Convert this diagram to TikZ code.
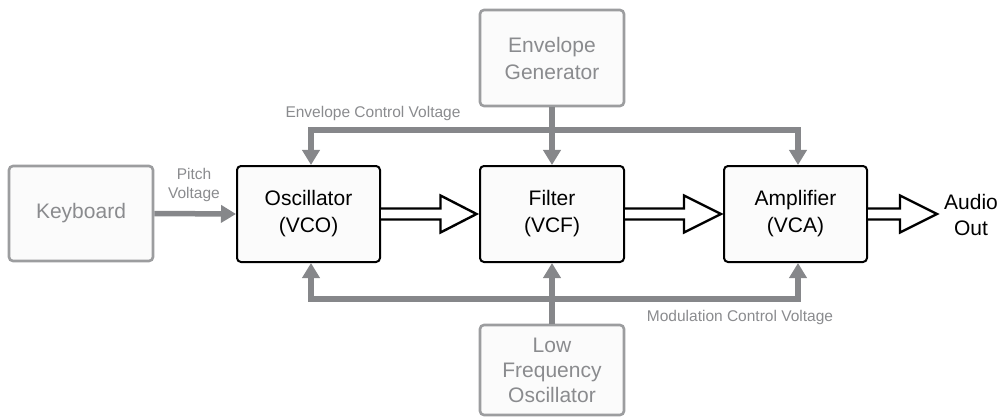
\documentclass[tikz,border=0pt]{standalone}
\usepackage{fontspec}
\setmainfont{Liberation Sans}
\usetikzlibrary{arrows.meta,calc}
\definecolor{gline}{HTML}{86878A}
\definecolor{gtext}{HTML}{8A8B8E}
\definecolor{gbord}{HTML}{9C9D9F}
\definecolor{bfill}{HTML}{FBFBFB}
\tikzset{
  mainbox/.style={draw=black, line width=2pt, rounded corners=4pt, fill=bfill,
    minimum width=143pt, minimum height=96pt, inner sep=0pt, align=center,
    font=\fontsize{21}{27}\selectfont},
  graybox/.style={draw=gbord, line width=2.6pt, rounded corners=4pt, fill=bfill,
    minimum width=144pt, minimum height=96pt, inner sep=0pt, align=center,
    text=gtext, font=\fontsize{21}{27}\selectfont},
  glabel/.style={text=gtext, inner sep=0pt, align=center, font=\fontsize{15.5}{19.5}\selectfont},
  gconn/.style={draw=gline, line width=5.5pt, -{Triangle[length=15pt,width=17pt]}},
  hollow/.style={draw=black, line width=2.4pt, fill=white, line join=miter}
}
\newcommand\hollowarrow[3]{%
  \filldraw[hollow] let \p1=#1, \p2=#2 in
    (\x1,\y1+5.5pt) -- (\x2-#3,\y1+5.5pt) -- (\x2-#3,\y1+18.5pt) -- (\x2,\y1)
    -- (\x2-#3,\y1-18.5pt) -- (\x2-#3,\y1-5.5pt) -- (\x1,\y1-5.5pt);}
\begin{document}
\begin{tikzpicture}[x=1pt,y=-1pt]
\useasboundingbox (0,0) rectangle (1001,417);
% boxes
\node[graybox, minimum width=144pt, minimum height=95pt] (kbd) at (81,213.5) {Keyboard};
\node[mainbox] (vco) at (308.5,214) {Oscillator\\(VCO)};
\node[mainbox, minimum width=144pt] (vcf) at (552,214) {Filter\\(VCF)};
\node[mainbox] (vca) at (795.5,214) {Amplifier\\(VCA)};
\node[graybox] (eg) at (552,58) {Envelope\\Generator};
\node[graybox, minimum height=90pt, font=\fontsize{21}{25}\selectfont] (lfo) at (552,370) {Low\\Frequency\\Oscillator};
\node[inner sep=0pt, align=center, font=\fontsize{21}{26}\selectfont] (out) at (971,214.5) {Audio\\Out};
\coordinate (outtip) at (937,214);
% labels
\node[glabel] (pv) at (194,185) {Pitch\\Voltage};
\node[glabel] (ecv) at (373,113) {Envelope Control Voltage};
\node[glabel] (mcv) at (740,317) {Modulation Control Voltage};
% envelope bus
\coordinate (ej) at (552,130);
\draw[gconn] (eg.south) -- (vcf.north);
\draw[gconn] (ej) -| ([xshift=2.5pt]vco.north);
\draw[gconn] (ej) -| ([xshift=2.5pt]vca.north);
% modulation bus
\coordinate (mj) at (552,299);
\draw[gconn] (lfo.north) -- (vcf.south);
\draw[gconn] (mj) -| ([xshift=2.5pt]vco.south);
\draw[gconn] (mj) -| ([xshift=2.5pt]vca.south);
% pitch
\draw[gconn] (kbd.east) -- (vco.west);
% audio path
\hollowarrow{(vco.east)}{([xshift=-2.5pt]vcf.west)}{36pt}
\hollowarrow{(vcf.east)}{([xshift=-2pt]vca.west)}{37pt}
\hollowarrow{(vca.east)}{(outtip)}{37pt}
\end{tikzpicture}
\end{document}
